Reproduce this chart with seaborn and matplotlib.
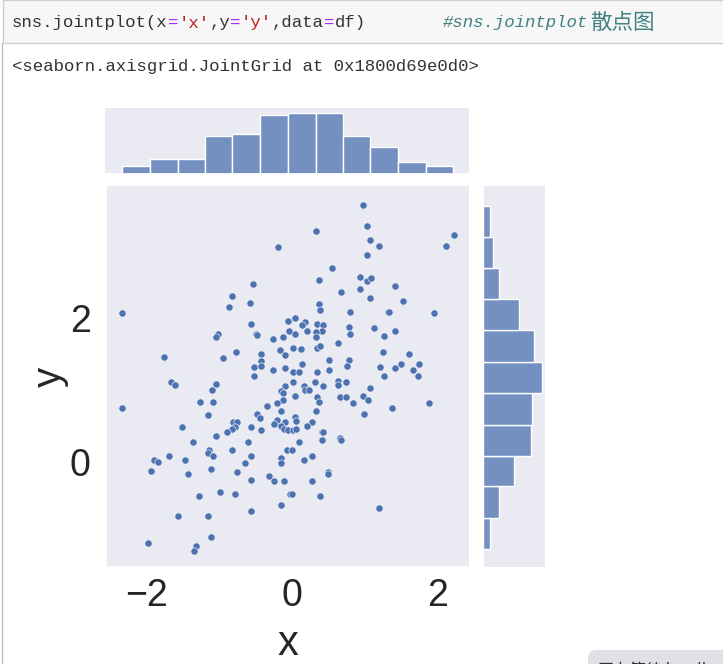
import numpy as np
import pandas as pd
import matplotlib
matplotlib.use('Agg')
import matplotlib.pyplot as plt
from matplotlib.patches import Rectangle, FancyBboxPatch
import seaborn as sns

x_vals = [-0.19, -0.54, -0.83, -0.58, -0.87, -2.34, -0.56, -0.05, -1.02, -1.04, -0.49, -0.48, -0.26, -0.13, -0.04,
          -0.77, -0.17, -0.09, -0.42, -1.76, -0.95, -0.42, -0.52, -0.42, -0.26, -0.09, -0.52,
          0.97, 0.33, 1.03, 1.07, 1.19, 1.03, 2.22, 2.12, 0.55, 0.37, 0.93, 1.03, 1.09, 1.42, 0.67, 0.93, 1.07, 1.52,
          0.37, 0.39, 0.80, 1.32, 1.34, 1.95, 0.04, 0.18, 0.14, 0.34, 0.43, 0.78, 1.13, 0.20, 0.41, 0.33, 1.42, 0.04,
          0.80, 1.27, 0.33, 0.63, 0.02, 0.12, 0.34, 0.39, 1.25, 1.61, 0.51, 0.78, 0.14, 0.76, 1.21, 1.50, 1.75, 1.42,
          1.67, 0.02, 0.10, 0.34, 0.51,
          -1.66, -1.61, -1.04, -1.10, -0.09, -0.15, -0.13, -0.12, -0.21, -1.26, -1.08, -0.35, -2.34, -0.15, -1.16,
          -0.48, -0.44, -0.21, -0.09, -0.25, -0.81, -0.75, -0.15, -1.51, -0.79, -0.83, -0.89, -0.56, -0.42, -0.11,
          -0.06, -1.04, -1.36, -0.60, -1.14, -1.16, -0.83, -1.08, -0.56, -0.07, -1.69, -1.90, -1.84, -1.47, -0.15,
          -0.15, -0.65, -1.94, -1.43, -1.12, -0.75, -0.56, -0.32, -0.25, -0.11, -0.99, -0.79, -1.28, -0.03, -0.15,
          -0.56, -1.57, -1.16, -1.12, -1.98, -1.32, -1.35,
          1.27, 1.73, 0.02, 0.31, 0.63, 0.74, 0.16, 0.18, 0.24, 0.43, 0.63, 1.07, 0.04, 0.34, 0.66, 0.74, 0.97, 1.05,
          0.37, 0.84, 1.89, 1.37, 0.33, 0.99, 0.04, 0.06, 0.27, 0.20, 0.02, 0.06, 0.41, 0.43, 0.66, 0.68, 0.41, 0.10,
          0.00, 0.27, 0.16, 0.49, 0.49, 0.28, 0.00, 0.39, 1.19]
y_vals = [2.99, 2.47, 2.30, 2.21, 2.15, 2.07, 1.92, 1.96, 1.78, 1.74, 1.78, 1.77, 1.71, 1.74, 1.82,
          1.53, 1.55, 1.49, 1.50, 1.46, 1.44, 1.40, 1.32, 1.33, 1.28, 1.30, 1.20,
          3.57, 3.21, 3.28, 3.09, 3.00, 2.88, 3.15, 3.00, 2.69, 2.53, 2.57, 2.52, 2.55, 2.44, 2.36, 2.40, 2.28, 2.24,
          2.19, 2.11, 2.09, 2.09, 2.09, 2.07, 2.00, 1.94, 1.90, 1.92, 1.90, 1.88, 1.86, 1.82, 1.82, 1.80, 1.82, 1.78,
          1.78, 1.75, 1.74, 1.65, 1.59, 1.57, 1.59, 1.61, 1.53, 1.50, 1.42, 1.42, 1.36, 1.34, 1.32, 1.36, 1.36, 1.30,
          1.28, 1.25, 1.25, 1.25, 1.28,
          1.11, 1.07, 1.09, 1.00, 1.05, 0.99, 0.96, 0.86, 0.82, 0.84, 0.84, 0.78, 0.75, 0.71, 0.65,
          0.67, 0.61, 0.59, 0.55, 0.53, 0.55, 0.55, 0.50, 0.49, 0.49, 0.46, 0.42, 0.49, 0.44, 0.46,
          0.44, 0.36, 0.28, 0.28, 0.17, 0.13, 0.17, 0.09, 0.09, 0.17, 0.09, 0.03, 0.00, 0.03, 0.05,
          -0.02, -0.01, -0.12, -0.16, -0.10, -0.14, -0.25, -0.20, -0.26, -0.26, -0.41, -0.45, -0.47, -0.45, -0.60,
          -0.68, -0.75, -0.75, -1.04, -1.12, -1.16, -1.23,
          1.19, 1.20, 1.11, 1.11, 1.13, 1.11, 1.05, 1.00, 1.00, 1.05, 1.07, 1.03, 0.92, 0.90, 0.90, 0.90, 0.92, 0.86,
          0.84, 0.82, 0.82, 0.75, 0.71, 0.67, 0.63, 0.57, 0.55, 0.50, 0.44, 0.46, 0.42, 0.42, 0.34, 0.30, 0.30, 0.28,
          0.17, 0.09, 0.03, -0.14, -0.16, -0.26, -0.45, -0.47, -0.64]

# marginal histogram bins
x_edges = [-2.32, -1.94, -1.56, -1.19, -0.81, -0.43, -0.05, 0.33, 0.70, 1.08, 1.46, 1.84, 2.21]
x_counts = [4, 8, 8, 20, 21, 31, 32, 32, 20, 14, 6, 4]
y_edges = [-1.21, -0.78, -0.34, 0.09, 0.52, 0.96, 1.39, 1.83, 2.26, 2.69, 3.13, 3.56]
y_counts = [4, 10, 19, 29, 30, 36, 31, 22, 10, 6, 4]

W, H = 723, 664
sns.set_theme(style='dark', font='Liberation Sans')
blue = '#4c72b0'

df = pd.DataFrame({'x': x_vals, 'y': y_vals})
g = sns.JointGrid(x='x', y='y', data=df, height=6.64)
fig = g.figure
fig.set_size_inches(W / 100, H / 100)
fig.set_dpi(100)


def box(l, t, r, b):
    return [l / W, 1 - b / H, (r - l) / W, (b - t) / H]


g.ax_joint.set_position(box(106, 186, 469, 567))
g.ax_marg_x.set_position(box(105, 108, 469, 174))
g.ax_marg_y.set_position(box(483, 186, 545, 567))

sns.scatterplot(x='x', y='y', data=df, ax=g.ax_joint, color=blue, s=27, edgecolor='#f4f4f8', linewidth=0.45)

x_mid = (np.array(x_edges[:-1]) + np.array(x_edges[1:])) / 2
y_mid = (np.array(y_edges[:-1]) + np.array(y_edges[1:])) / 2
sns.histplot(x=x_mid, weights=x_counts, bins=x_edges, ax=g.ax_marg_x, color=blue, alpha=0.75, edgecolor='white')
sns.histplot(y=y_mid, weights=y_counts, bins=y_edges, ax=g.ax_marg_y, color=blue, alpha=0.75, edgecolor='white')

g.ax_joint.set_xlim(-2.557, 2.433)
g.ax_joint.set_ylim(-1.458, 3.833)
g.ax_marg_x.set_ylim(0, 34.4)
g.ax_joint.set_xticks([-2, 0, 2])
g.ax_joint.set_yticks([0, 2])
g.ax_joint.tick_params(labelsize=27, colors='#262626')
g.ax_joint.tick_params(axis='x', pad=2)
g.ax_joint.tick_params(axis='y', pad=5)
g.ax_joint.set_xlabel('x', fontsize=30, color='#262626', labelpad=7)
g.ax_joint.set_ylabel('y', fontsize=29, color='#262626', labelpad=1)

# notebook cell around the chart
fig.add_artist(Rectangle((3 / W, 1 - 43 / H), 730 / W, 43 / H, transform=fig.transFigure,
                         facecolor='#f7f7f7', edgecolor='#cfcfcf', lw=1))
fig.add_artist(plt.Line2D([2 / W, 2 / W], [0, 1 - 43 / H], transform=fig.transFigure, color='#bdbdbd', lw=1))
fig.add_artist(FancyBboxPatch((588 / W, -20 / H), 160 / W, 34 / H, transform=fig.transFigure,
                              boxstyle='round,pad=0,rounding_size=0.012', facecolor='#dfe1e5', edgecolor='none'))

mono = 'Liberation Mono'
char_w = 10.4
code = [("sns.jointplot(x", '#333333'), ("=", '#aa22ff'), ("'x'", '#ba2121'), (",y", '#333333'), ("=", '#aa22ff'),
        ("'y'", '#ba2121'), (",data", '#333333'), ("=", '#aa22ff'), ("df)", '#333333')]
pos = 12
for part, col in code:
    fig.text(pos / W, 1 - 23 / H, part, family=mono, fontsize=12.5, color=col, va='center')
    pos += len(part) * char_w
fig.text(443 / W, 1 - 23 / H, '#sns.jointplot', family=mono, fontsize=12.5,
         style='italic', color='#408080', va='center')
fig.text(590 / W, 1 - 23 / H, '散点图', family='Noto Sans CJK SC', fontsize=15.5,
         color='#408080', va='center')
fig.text(12 / W, 1 - 67 / H, '<seaborn.axisgrid.JointGrid at 0x1800d69e0d0>', family=mono, fontsize=12.5,
         color='#333333', va='center')
fig.text(598 / W, 1 - 670 / H, '正在等待 localhost', family=['Noto Sans CJK SC', 'DejaVu Sans'], fontsize=11.5,
         color='#333333', va='center')

fig.savefig('out.png', dpi=100)
